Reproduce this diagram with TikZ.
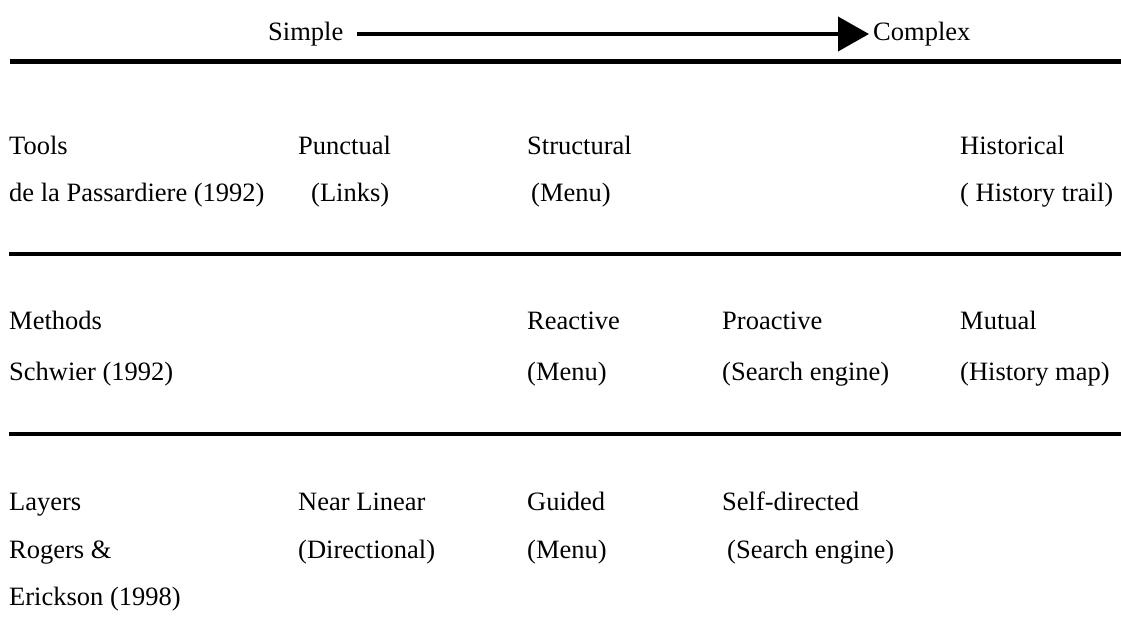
\documentclass[tikz,border=0pt]{standalone}
\usepackage{fontspec}
\setmainfont{Liberation Serif}
\usetikzlibrary{arrows.meta}
\begin{document}
\begin{tikzpicture}[x=1pt,y=-1pt,
  lbl/.style={anchor=base west,inner sep=0pt,font=\fontsize{26.5}{30}\selectfont},
  rulethick/.style={line width=5pt},
  rulethin/.style={line width=3.6pt},
  scalearrow/.style={line width=4pt,-{Triangle[length=31pt,width=34pt]}}]
\useasboundingbox (0,0) rectangle (1121,619);
% header
\node[lbl] (simple) at (268,40) {Simple};
\node[lbl] (complex) at (873,40) {Complex};
\coordinate (arrS) at (357,34);
\coordinate (arrE) at (869,34);
\draw[scalearrow] (arrS) -- (arrE);
\coordinate (r0a) at (10,61);
\coordinate (r0b) at (1121,61);
\draw[rulethick] (r0a) -- (r0b);
% row 1
\node[lbl] (tools) at (9,154) {Tools};
\node[lbl] (passard) at (9,201) {de la Passardiere (1992)};
\node[lbl] (punct) at (298,154) {Punctual};
\node[lbl] (links) at (311,201) {(Links)};
\node[lbl] (struct) at (527,154) {Structural};
\node[lbl] (menuA) at (531,201) {(Menu)};
\node[lbl] (hist) at (960,154) {Historical};
\node[lbl] (trail) at (960,201) {( History trail)};
\coordinate (r1a) at (9,254);
\coordinate (r1b) at (1121,254);
\draw[rulethin] (r1a) -- (r1b);
% row 2
\node[lbl] (methods) at (9,329) {Methods};
\node[lbl] (schwier) at (9,380) {Schwier (1992)};
\node[lbl] (react) at (527,329) {Reactive};
\node[lbl] (menuB) at (527,380) {(Menu)};
\node[lbl] (proact) at (722,329) {Proactive};
\node[lbl] (searchA) at (722,380) {(Search engine)};
\node[lbl] (mutual) at (960,329) {Mutual};
\node[lbl] (hmap) at (960,380) {(History map)};
\coordinate (r2a) at (9,434);
\coordinate (r2b) at (1121,434);
\draw[rulethin] (r2a) -- (r2b);
% row 3
\node[lbl] (layers) at (9,510) {Layers};
\node[lbl] (rogers) at (9,558) {Rogers \&};
\node[lbl] (erick) at (9,605) {Erickson (1998)};
\node[lbl] (nearlin) at (298,510) {Near Linear};
\node[lbl] (direct) at (298,558) {(Directional)};
\node[lbl] (guided) at (527,510) {Guided};
\node[lbl] (menuC) at (527,558) {(Menu)};
\node[lbl] (selfdir) at (722,510) {Self-directed};
\node[lbl] (searchB) at (727,558) {(Search engine)};
\end{tikzpicture}
\end{document}
